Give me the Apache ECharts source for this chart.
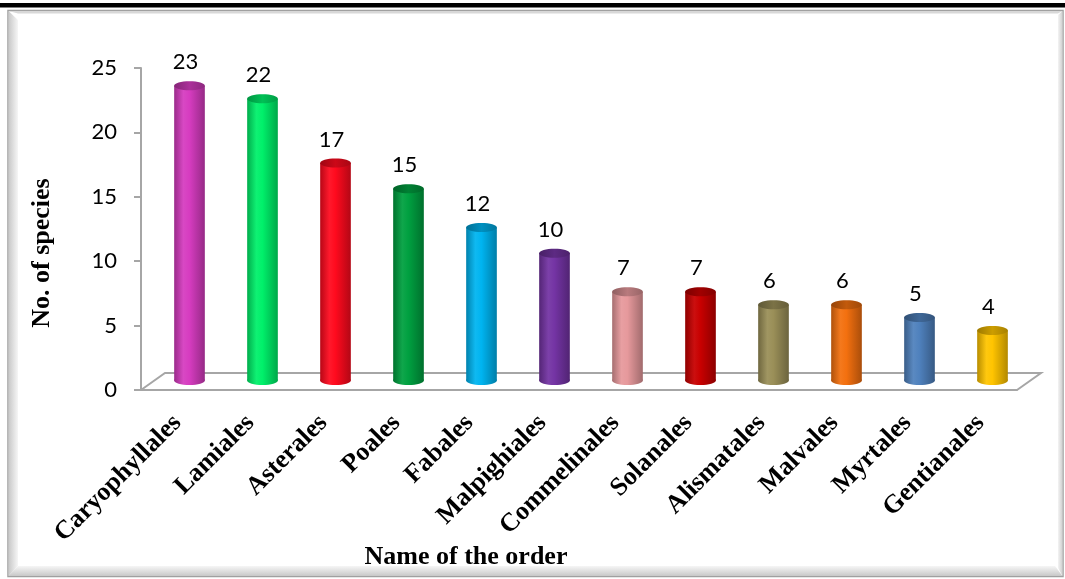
<!DOCTYPE html>
<html>
<head>
<meta charset="utf-8">
<title>Orders</title>
<script src="https://cdn.jsdelivr.net/npm/echarts@6/dist/echarts.min.js"></script>
<style>
  html, body { margin: 0; padding: 0; background: #ffffff; }
  #chart { width: 1065px; height: 579px; }
</style>
</head>
<body>
<div id="chart"></div>
<script>
// Species count per plant order
const orders = ['Caryophyllales', 'Lamiales', 'Asterales', 'Poales', 'Fabales', 'Malpighiales',
  'Commelinales', 'Solanales', 'Alismatales', 'Malvales', 'Myrtales', 'Gentianales'];
const speciesCount = [23, 22, 17, 15, 12, 10, 7, 7, 6, 6, 5, 4];
const barColors = ['#D63CC0', '#00F06A', '#FF0A1E', '#00A040', '#00B4F0', '#7434A4',
  '#E6999C', '#C80000', '#9A8F58', '#F3700F', '#4F81BD', '#FFC400'];
const yTicks = [0, 5, 10, 15, 20, 25];
const xTitle = 'Name of the order';
const yTitle = 'No. of species';

// depth offset of the cylinders and of the floor's back edge
const DEPTH_DX = 12, DEPTH_DY = -8;
const FLOOR_DX = 24, FLOOR_DY = -17;

function shade(hex, f) {
  const n = parseInt(hex.slice(1), 16);
  let r = (n >> 16) & 255, g = (n >> 8) & 255, b = n & 255;
  if (f <= 1) { r *= f; g *= f; b *= f; }
  else { const t = f - 1; r += (255 - r) * t; g += (255 - g) * t; b += (255 - b) * t; }
  const h = v => Math.round(Math.max(0, Math.min(255, v))).toString(16).padStart(2, '0');
  return '#' + h(r) + h(g) + h(b);
}

function renderCylinder(params, api) {
  const i = api.value(0);
  const v = api.value(1);
  const base = api.coord([i, 0]);
  const top = api.coord([i, v]);
  const band = api.size([1, 0])[0];
  const w = band * 0.42;
  const rx = w / 2, ry = 4.5;
  const cx = base[0] + DEPTH_DX;
  const yb = base[1] + DEPTH_DY - 1.5;
  const yt = top[1] + DEPTH_DY;
  const c = barColors[params.dataIndex];
  const body = () => new echarts.graphic.LinearGradient(0, 0, 1, 0, [
    { offset: 0, color: shade(c, 0.72) },
    { offset: 0.3, color: shade(c, 1.06) },
    { offset: 0.5, color: c },
    { offset: 1, color: shade(c, 0.7) }
  ]);
  return {
    type: 'group',
    children: [
      { type: 'ellipse', shape: { cx: cx, cy: yb, rx: rx, ry: ry }, style: { fill: body() } },
      { type: 'rect', shape: { x: cx - rx, y: yt, width: w, height: yb - yt }, style: { fill: body() } },
      { type: 'ellipse', shape: { cx: cx, cy: yt, rx: rx, ry: ry },
        style: { fill: new echarts.graphic.LinearGradient(0, 0, 1, 0, [
          { offset: 0, color: shade(c, 0.62) },
          { offset: 0.5, color: shade(c, 0.8) },
          { offset: 1, color: shade(c, 0.66) }
        ]) } },
      { type: 'text', style: { text: String(v), x: cx - 4, y: yt - ry - 8,
        align: 'center', verticalAlign: 'bottom', fontSize: 22, fontFamily: 'Lato', fill: '#000' } }
    ]
  };
}

function renderFloor(params) {
  const cs = params.coordSys;
  const x0 = cs.x, x1 = cs.x + cs.width, y0 = cs.y + cs.height;
  return {
    type: 'polyline',
    shape: { points: [[x0, y0], [x0 + FLOOR_DX, y0 + FLOOR_DY], [x1 + FLOOR_DX, y0 + FLOOR_DY], [x1, y0]] },
    style: { stroke: '#A6A6A6', lineWidth: 2, fill: null }
  };
}

const chart = echarts.init(document.getElementById('chart'), null, { renderer: 'canvas' });

const gray = '#A6A6A6';
const titleFont = { fontFamily: 'Liberation Serif', fontWeight: 'bold', fontSize: 26, fill: '#000' };
chart.setOption({
  animation: false,
  backgroundColor: '#ffffff',
  graphic: [
    { type: 'rect', shape: { x: 0, y: 3, width: 1065, height: 4.5 }, style: { fill: '#000' }, z: 10 },
    // framed panel with a bevelled edge
    { type: 'rect', shape: { x: 8, y: 10.5, width: 1055, height: 566 }, style: { fill: '#fff', stroke: '#A0A0A0', lineWidth: 1.5 }, z: -10 },
    { type: 'polygon', shape: { points: [[8.5, 11], [18, 20], [18, 566], [8.5, 576]] },
      style: { fill: new echarts.graphic.LinearGradient(0, 0, 1, 0, [{ offset: 0, color: '#C8C8C8' }, { offset: 1, color: '#F6F6F6' }]) }, z: -9 },
    { type: 'polygon', shape: { points: [[8.5, 576], [18, 566], [1055, 566], [1062.5, 576]] },
      style: { fill: new echarts.graphic.LinearGradient(0, 0, 0, 1, [{ offset: 0, color: '#F6F6F6' }, { offset: 1, color: '#C8C8C8' }]) }, z: -9 },
    { type: 'polygon', shape: { points: [[1062.5, 11], [1058, 15], [1058, 568], [1062.5, 576]] },
      style: { fill: new echarts.graphic.LinearGradient(0, 0, 1, 0, [{ offset: 0, color: '#F4F4F4' }, { offset: 1, color: '#CFCFCF' }]) }, z: -9 },
    { type: 'polygon', shape: { points: [[8.5, 11], [1062.5, 11], [1058, 13.5], [18, 13.5]] },
      style: { fill: '#D8D8D8' }, z: -9 },
    // axis titles
    { type: 'text', x: 466, y: 557, style: Object.assign({ text: xTitle, align: 'center', verticalAlign: 'middle' }, titleFont), z: 10 },
    { type: 'text', x: 42, y: 253, rotation: Math.PI / 2, style: Object.assign({ text: yTitle, align: 'center', verticalAlign: 'middle' }, titleFont), z: 10 }
  ],
  grid: { left: 141, right: 48, top: 68, bottom: 189, containLabel: false },
  xAxis: {
    type: 'category',
    data: orders,
    boundaryGap: true,
    axisLine: { lineStyle: { color: gray, width: 2 } },
    axisTick: { length: 8, lineStyle: { color: gray, width: 2 } },
    axisLabel: { rotate: 45, interval: 0, margin: 29, fontFamily: 'Liberation Serif', fontWeight: 'bold', fontSize: 26, color: '#000' }
  },
  yAxis: {
    type: 'value',
    min: yTicks[0],
    max: yTicks[yTicks.length - 1],
    interval: 5,
    axisLine: { show: true, lineStyle: { color: gray, width: 2 } },
    axisTick: { show: true, length: 7, lineStyle: { color: gray, width: 2 } },
    splitLine: { show: false },
    axisLabel: { margin: 24, fontFamily: 'Lato', fontSize: 22, color: '#000' }
  },
  series: [
    { type: 'custom', renderItem: renderFloor, data: [[0, 0]], clip: false, z: 1, silent: true },
    { type: 'custom', renderItem: renderCylinder, data: speciesCount.map((v, i) => [i, v]), clip: false, z: 2 }
  ]
});
</script>
</body>
</html>
